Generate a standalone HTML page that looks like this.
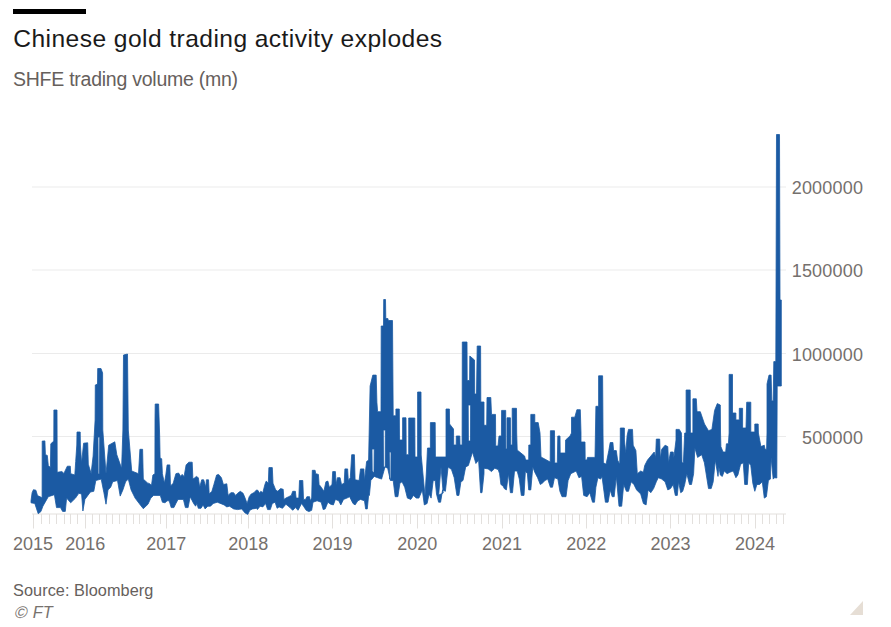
<!DOCTYPE html>
<html><head><meta charset="utf-8"><style>
html,body{margin:0;padding:0;background:#fff;}
svg{display:block;}
text{font-family:"Liberation Sans",sans-serif;}
</style></head><body>
<svg width="891" height="627" viewBox="0 0 891 627">
<rect x="0" y="0" width="891" height="627" fill="#ffffff"/>
<rect x="13" y="9" width="73" height="5" fill="#000000"/>
<text x="13.3" y="47.2" font-size="24.6" fill="#1a1a1a" letter-spacing="0.43">Chinese gold trading activity explodes</text>
<text x="13" y="85.8" font-size="19.5" letter-spacing="-0.25" fill="#66605c">SHFE trading volume (mn)</text>
<g stroke="#ebebeb" stroke-width="1">
<line x1="32" y1="187" x2="786" y2="187"/><line x1="32" y1="270" x2="786" y2="270"/><line x1="32" y1="353.5" x2="786" y2="353.5"/><line x1="32" y1="436.5" x2="786" y2="436.5"/>
</g>
<g fill="#75706d" font-size="18" text-anchor="end" letter-spacing="0.2">
<text x="863.2" y="194.2">2000000</text><text x="863.2" y="277.2">1500000</text><text x="863.2" y="360.7">1000000</text><text x="863.2" y="443.7">500000</text>
</g>
<g stroke="#e3e0dd" stroke-width="1">
<line x1="32" y1="514" x2="786" y2="514"/>
<line x1="33.5" y1="514" x2="33.5" y2="528.5"/><line x1="85.5" y1="514" x2="85.5" y2="528.5"/><line x1="166.5" y1="514" x2="166.5" y2="528.5"/><line x1="248.5" y1="514" x2="248.5" y2="528.5"/><line x1="332.5" y1="514" x2="332.5" y2="528.5"/><line x1="417.5" y1="514" x2="417.5" y2="528.5"/><line x1="502.5" y1="514" x2="502.5" y2="528.5"/><line x1="586.5" y1="514" x2="586.5" y2="528.5"/><line x1="670.5" y1="514" x2="670.5" y2="528.5"/><line x1="755.5" y1="514" x2="755.5" y2="528.5"/><line x1="41.5" y1="514" x2="41.5" y2="524"/><line x1="49.5" y1="514" x2="49.5" y2="524"/><line x1="56.5" y1="514" x2="56.5" y2="524"/><line x1="64.5" y1="514" x2="64.5" y2="524"/><line x1="70.5" y1="514" x2="70.5" y2="524"/><line x1="77.5" y1="514" x2="77.5" y2="524"/><line x1="92.5" y1="514" x2="92.5" y2="524"/><line x1="99.5" y1="514" x2="99.5" y2="524"/><line x1="106.5" y1="514" x2="106.5" y2="524"/><line x1="112.5" y1="514" x2="112.5" y2="524"/><line x1="119.5" y1="514" x2="119.5" y2="524"/><line x1="126.5" y1="514" x2="126.5" y2="524"/><line x1="133.5" y1="514" x2="133.5" y2="524"/><line x1="139.5" y1="514" x2="139.5" y2="524"/><line x1="146.5" y1="514" x2="146.5" y2="524"/><line x1="153.5" y1="514" x2="153.5" y2="524"/><line x1="160.5" y1="514" x2="160.5" y2="524"/><line x1="173.5" y1="514" x2="173.5" y2="524"/><line x1="180.5" y1="514" x2="180.5" y2="524"/><line x1="187.5" y1="514" x2="187.5" y2="524"/><line x1="194.5" y1="514" x2="194.5" y2="524"/><line x1="200.5" y1="514" x2="200.5" y2="524"/><line x1="207.5" y1="514" x2="207.5" y2="524"/><line x1="214.5" y1="514" x2="214.5" y2="524"/><line x1="221.5" y1="514" x2="221.5" y2="524"/><line x1="228.5" y1="514" x2="228.5" y2="524"/><line x1="235.5" y1="514" x2="235.5" y2="524"/><line x1="241.5" y1="514" x2="241.5" y2="524"/><line x1="255.5" y1="514" x2="255.5" y2="524"/><line x1="262.5" y1="514" x2="262.5" y2="524"/><line x1="269.5" y1="514" x2="269.5" y2="524"/><line x1="276.5" y1="514" x2="276.5" y2="524"/><line x1="283.5" y1="514" x2="283.5" y2="524"/><line x1="290.5" y1="514" x2="290.5" y2="524"/><line x1="297.5" y1="514" x2="297.5" y2="524"/><line x1="304.5" y1="514" x2="304.5" y2="524"/><line x1="311.5" y1="514" x2="311.5" y2="524"/><line x1="318.5" y1="514" x2="318.5" y2="524"/><line x1="325.5" y1="514" x2="325.5" y2="524"/><line x1="340.5" y1="514" x2="340.5" y2="524"/><line x1="347.5" y1="514" x2="347.5" y2="524"/><line x1="354.5" y1="514" x2="354.5" y2="524"/><line x1="361.5" y1="514" x2="361.5" y2="524"/><line x1="368.5" y1="514" x2="368.5" y2="524"/><line x1="375.5" y1="514" x2="375.5" y2="524"/><line x1="382.5" y1="514" x2="382.5" y2="524"/><line x1="389.5" y1="514" x2="389.5" y2="524"/><line x1="396.5" y1="514" x2="396.5" y2="524"/><line x1="403.5" y1="514" x2="403.5" y2="524"/><line x1="410.5" y1="514" x2="410.5" y2="524"/><line x1="424.5" y1="514" x2="424.5" y2="524"/><line x1="431.5" y1="514" x2="431.5" y2="524"/><line x1="438.5" y1="514" x2="438.5" y2="524"/><line x1="446.5" y1="514" x2="446.5" y2="524"/><line x1="453.5" y1="514" x2="453.5" y2="524"/><line x1="460.5" y1="514" x2="460.5" y2="524"/><line x1="467.5" y1="514" x2="467.5" y2="524"/><line x1="474.5" y1="514" x2="474.5" y2="524"/><line x1="481.5" y1="514" x2="481.5" y2="524"/><line x1="488.5" y1="514" x2="488.5" y2="524"/><line x1="495.5" y1="514" x2="495.5" y2="524"/><line x1="509.5" y1="514" x2="509.5" y2="524"/><line x1="516.5" y1="514" x2="516.5" y2="524"/><line x1="523.5" y1="514" x2="523.5" y2="524"/><line x1="530.5" y1="514" x2="530.5" y2="524"/><line x1="537.5" y1="514" x2="537.5" y2="524"/><line x1="544.5" y1="514" x2="544.5" y2="524"/><line x1="551.5" y1="514" x2="551.5" y2="524"/><line x1="558.5" y1="514" x2="558.5" y2="524"/><line x1="565.5" y1="514" x2="565.5" y2="524"/><line x1="572.5" y1="514" x2="572.5" y2="524"/><line x1="579.5" y1="514" x2="579.5" y2="524"/><line x1="593.5" y1="514" x2="593.5" y2="524"/><line x1="600.5" y1="514" x2="600.5" y2="524"/><line x1="607.5" y1="514" x2="607.5" y2="524"/><line x1="614.5" y1="514" x2="614.5" y2="524"/><line x1="621.5" y1="514" x2="621.5" y2="524"/><line x1="628.5" y1="514" x2="628.5" y2="524"/><line x1="635.5" y1="514" x2="635.5" y2="524"/><line x1="642.5" y1="514" x2="642.5" y2="524"/><line x1="649.5" y1="514" x2="649.5" y2="524"/><line x1="656.5" y1="514" x2="656.5" y2="524"/><line x1="663.5" y1="514" x2="663.5" y2="524"/><line x1="678.5" y1="514" x2="678.5" y2="524"/><line x1="685.5" y1="514" x2="685.5" y2="524"/><line x1="692.5" y1="514" x2="692.5" y2="524"/><line x1="699.5" y1="514" x2="699.5" y2="524"/><line x1="706.5" y1="514" x2="706.5" y2="524"/><line x1="713.5" y1="514" x2="713.5" y2="524"/><line x1="720.5" y1="514" x2="720.5" y2="524"/><line x1="727.5" y1="514" x2="727.5" y2="524"/><line x1="734.5" y1="514" x2="734.5" y2="524"/><line x1="741.5" y1="514" x2="741.5" y2="524"/><line x1="748.5" y1="514" x2="748.5" y2="524"/><line x1="762.5" y1="514" x2="762.5" y2="524"/><line x1="769.5" y1="514" x2="769.5" y2="524"/><line x1="776.5" y1="514" x2="776.5" y2="524"/><line x1="783.5" y1="514" x2="783.5" y2="524"/>
</g>
<g fill="#75706d" font-size="18" text-anchor="middle">
<text x="33.1" y="550.2">2015</text><text x="85.3" y="550.2">2016</text><text x="166.3" y="550.2">2017</text><text x="248.3" y="550.2">2018</text><text x="332.5" y="550.2">2019</text><text x="417.3" y="550.2">2020</text><text x="502.1" y="550.2">2021</text><text x="586.3" y="550.2">2022</text><text x="670.5" y="550.2">2023</text><text x="755.0" y="550.2">2024</text>
</g>

<path d="M31.0,500.8 L32.1,492.7 L33.4,489.7 L35.9,490.2 L37.5,495.6 L41.6,497.5 L42.1,497.5 L42.2,441.1 L44.9,440.9 L45.4,454.7 L47.3,455.4 L48.3,465.5 L50.4,467.6 L50.8,443.8 L53.8,441.1 L53.8,440.0 L53.9,410.0 L57.0,410.0 L57.1,440.0 L57.2,472.3 L61.9,471.6 L63.9,473.4 L67.3,466.2 L70.3,466.2 L70.7,473.7 L74.8,475.0 L75.7,461.5 L76.8,445.0 L77.0,432.0 L80.2,432.0 L80.4,445.0 L81.6,463.1 L83.6,443.2 L87.7,442.8 L88.3,464.2 L91.1,473.4 L93.1,456.1 L95.1,420.0 L95.3,385.0 L97.5,384.0 L97.7,368.5 L101.0,368.5 L102.6,373.0 L102.8,430.0 L106.0,473.7 L108.7,445.2 L114.8,441.8 L116.8,454.7 L121.6,468.3 L122.9,430.0 L123.5,355.0 L127.5,354.0 L128.3,430.0 L131.7,471.0 L138.5,473.7 L139.9,449.3 L142.6,449.3 L143.3,479.1 L148.0,483.4 L148.8,483.2 L151.5,485.2 L152.9,475.0 L154.9,473.7 L155.0,420.0 L155.2,404.0 L158.6,404.0 L159.7,437.1 L160.1,458.1 L161.7,458.8 L162.4,473.7 L164.4,483.2 L165.8,475.0 L167.1,464.9 L169.8,464.9 L170.5,485.9 L173.2,483.2 L175.9,473.7 L178.6,473.0 L180.7,476.4 L182.0,474.4 L184.1,476.4 L186.1,464.9 L188.8,462.2 L192.2,462.2 L192.9,479.1 L194.9,477.7 L196.3,476.4 L198.3,477.7 L199.7,487.2 L201.7,479.8 L203.7,479.8 L205.8,487.2 L206.4,479.8 L208.5,479.8 L209.2,494.0 L211.9,491.3 L213.9,484.5 L216.6,475.0 L218.6,474.4 L221.4,477.7 L223.4,484.5 L226.8,483.8 L228.1,495.4 L230.8,492.7 L233.6,492.7 L235.6,495.4 L237.6,493.3 L240.3,491.3 L243.1,493.3 L245.1,498.1 L247.1,503.5 L249.2,496.7 L251.2,494.0 L253.9,492.7 L256.6,489.9 L258.1,490.6 L259.5,493.3 L260.8,491.3 L262.8,492.7 L264.9,484.5 L266.2,481.1 L268.3,483.2 L268.9,467.6 L272.3,467.6 L273.0,483.2 L275.7,489.9 L277.8,491.3 L280.5,488.6 L283.2,489.3 L283.9,499.4 L285.9,498.1 L288.6,496.7 L291.3,495.4 L292.7,491.3 L295.4,491.3 L296.1,498.1 L298.8,498.1 L299.5,480.5 L302.8,480.5 L303.5,499.4 L305.6,499.4 L306.9,496.7 L309.6,496.7 L310.3,500.8 L311.7,498.1 L312.3,470.3 L315.1,470.3 L315.7,473.7 L318.4,474.4 L319.1,484.5 L321.2,487.2 L323.9,491.3 L325.9,481.8 L327.9,481.1 L329.3,487.2 L332.0,484.5 L332.7,471.6 L335.4,471.6 L336.1,484.5 L337.4,477.7 L340.1,477.7 L341.5,484.5 L344.2,483.2 L344.9,468.9 L347.6,468.9 L348.3,480.5 L350.3,477.7 L351.7,454.7 L354.4,454.7 L355.1,479.8 L359.1,480.5 L360.5,468.9 L363.9,468.9 L364.5,480.5 L366.6,461.5 L368.6,460.1 L370.1,386.0 L372.8,375.1 L376.2,375.1 L376.9,402.2 L377.6,411.7 L381.0,411.7 L381.2,326.0 L383.5,326.0 L383.7,299.5 L385.5,299.5 L385.8,318.6 L388.0,318.6 L388.2,320.5 L392.5,320.5 L393.2,415.8 L395.9,415.8 L395.9,409.0 L399.3,409.0 L399.5,440.0 L402.6,440.0 L402.6,417.8 L406.0,417.8 L406.2,454.7 L408.7,454.7 L408.7,418.0 L414.8,418.0 L415.0,457.0 L417.6,457.0 L417.6,392.0 L421.0,392.0 L421.2,455.0 L423.5,480.0 L425.0,496.0 L426.5,470.0 L427.5,448.0 L430.4,448.0 L430.4,422.6 L435.2,422.6 L435.4,457.0 L446.0,457.0 L446.0,409.0 L449.4,409.0 L449.6,424.0 L453.5,429.0 L453.7,445.0 L456.2,445.0 L456.3,436.0 L459.8,436.0 L460.0,445.0 L462.1,445.0 L462.3,342.0 L467.0,342.0 L467.2,380.5 L469.6,380.5 L469.8,356.0 L474.5,360.0 L474.7,394.0 L476.5,394.0 L477.2,346.0 L480.6,346.0 L480.8,402.0 L484.0,402.0 L484.0,425.3 L486.7,425.3 L487.0,397.5 L490.8,397.5 L491.5,414.4 L495.5,414.4 L495.7,446.0 L498.0,446.0 L499.0,436.0 L501.4,436.0 L501.6,410.4 L505.7,410.4 L505.9,449.0 L507.0,449.0 L507.0,417.8 L510.4,417.8 L510.6,445.0 L512.2,445.0 L512.2,408.3 L516.5,408.3 L516.7,433.0 L517.2,450.0 L524.6,456.0 L525.6,460.0 L528.7,460.0 L528.8,445.0 L530.8,445.0 L530.8,414.4 L534.8,414.4 L534.8,422.6 L538.2,422.6 L540.0,433.0 L541.0,457.0 L550.2,462.0 L550.4,430.7 L554.5,430.7 L554.7,463.0 L557.3,463.0 L557.8,436.0 L560.0,436.0 L560.2,453.0 L565.4,453.0 L565.6,440.0 L570.0,436.0 L571.5,433.0 L571.5,417.2 L574.8,417.2 L576.9,409.7 L580.3,409.7 L581.0,433.0 L581.0,442.0 L585.0,442.0 L585.2,460.0 L587.0,460.0 L587.5,457.4 L595.0,457.4 L595.9,406.3 L598.6,406.3 L598.6,375.8 L602.6,375.8 L602.8,400.0 L603.0,433.0 L603.4,462.8 L606.1,464.2 L608.8,450.6 L610.2,442.5 L612.9,442.5 L613.6,450.6 L616.3,450.6 L617.6,460.1 L619.7,464.2 L620.3,440.0 L620.3,428.0 L624.4,428.0 L624.4,440.0 L625.8,453.3 L627.1,435.7 L628.5,429.4 L632.5,429.4 L633.2,445.2 L635.9,450.6 L637.3,473.7 L640.7,471.0 L643.4,472.3 L644.7,465.5 L647.5,460.1 L650.8,456.1 L654.2,452.0 L655.6,457.4 L656.3,439.1 L659.7,439.1 L660.3,458.8 L661.7,449.3 L665.1,445.2 L667.8,446.6 L668.5,462.8 L670.5,452.0 L673.2,452.0 L673.9,457.4 L676.0,440.0 L676.0,429.4 L679.3,429.4 L681.4,433.0 L682.0,462.8 L683.4,462.8 L684.7,433.0 L686.1,433.0 L686.1,390.0 L690.2,390.0 L690.4,433.0 L692.9,433.0 L692.9,398.8 L696.3,398.8 L697.0,411.7 L700.3,411.7 L704.5,424.0 L708.5,430.7 L711.9,429.4 L714.6,410.4 L717.3,403.6 L720.3,405.0 L720.5,432.0 L720.9,446.6 L723.0,452.0 L725.7,452.0 L726.4,443.8 L728.4,443.8 L729.1,433.0 L729.1,433.0 L729.1,374.4 L732.5,374.4 L732.5,413.0 L735.9,413.0 L735.9,419.9 L739.3,419.9 L739.3,408.3 L742.6,408.3 L742.6,428.0 L746.0,428.0 L746.7,402.2 L750.8,402.2 L750.8,432.0 L754.8,432.0 L754.8,424.0 L758.2,424.0 L758.4,433.0 L760.9,446.6 L764.3,445.2 L765.0,449.3 L766.6,449.3 L767.0,433.0 L767.0,384.0 L769.0,375.1 L771.1,375.1 L771.8,400.9 L773.2,400.9 L773.8,361.6 L775.8,361.6 L776.0,300.0 L776.5,134.5 L779.5,134.5 L780.0,300.0 L781.3,300.0 L781.3,386.0 L781.3,386.0 L777.2,386.0 L776.8,478.0 L774.5,477.7 L773.2,479.1 L771.1,457.4 L770.4,479.1 L768.4,480.5 L766.4,496.7 L764.3,498.1 L762.3,481.8 L759.6,484.5 L756.9,484.5 L754.8,491.3 L752.8,483.2 L750.8,465.5 L748.7,462.8 L747.4,484.5 L744.7,484.5 L743.3,462.8 L740.6,464.2 L737.9,475.0 L735.9,477.7 L733.2,471.0 L729.8,472.3 L727.1,473.7 L724.3,471.0 L722.3,476.4 L720.3,475.0 L718.9,466.9 L718.0,476.4 L715.3,460.1 L713.2,481.8 L711.2,488.6 L708.5,488.6 L704.4,462.8 L701.7,454.7 L697.6,457.4 L694.9,447.9 L693.6,473.7 L691.5,484.5 L689.5,484.5 L686.8,473.7 L684.7,484.5 L682.7,491.3 L680.7,492.7 L678.6,481.8 L677.3,495.4 L675.3,495.4 L673.2,484.5 L670.5,488.6 L667.8,489.9 L665.1,481.8 L661.7,479.1 L658.3,477.7 L656.3,481.8 L653.6,488.6 L650.8,492.7 L648.1,489.9 L646.1,504.9 L643.4,503.5 L640.7,494.0 L636.6,489.9 L633.9,484.5 L631.2,481.8 L628.5,491.3 L626.4,491.3 L623.7,484.5 L621.7,506.2 L619.0,506.2 L616.3,476.4 L614.2,496.7 L612.2,496.7 L610.2,489.9 L608.1,502.2 L605.4,502.2 L602.0,476.4 L600.6,479.1 L597.9,477.7 L595.9,487.2 L594.5,502.2 L592.5,502.2 L589.8,492.7 L587.1,496.7 L583.7,495.4 L581.6,476.4 L578.9,477.7 L576.2,471.0 L570.8,473.7 L568.1,480.5 L566.0,496.7 L562.0,496.7 L559.9,491.3 L557.9,479.1 L554.5,477.7 L552.5,487.2 L550.4,487.2 L547.7,479.1 L545.0,480.5 L542.3,483.2 L540.3,484.5 L537.6,477.7 L534.8,472.3 L532.8,466.9 L530.8,489.9 L528.7,489.9 L527.4,473.7 L525.4,471.0 L524.0,495.4 L521.3,495.4 L519.3,479.1 L517.2,471.0 L514.5,471.0 L512.5,492.7 L510.4,492.7 L508.4,473.7 L506.4,489.9 L504.3,488.6 L503.0,485.9 L500.9,484.5 L499.6,473.7 L498.2,469.6 L494.8,468.3 L491.5,471.6 L488.1,468.9 L484.0,468.3 L484.0,473.7 L482.0,492.7 L480.6,492.7 L478.6,460.1 L475.9,463.5 L472.5,452.0 L468.4,465.5 L465.7,466.9 L463.0,480.5 L460.9,481.8 L458.9,495.4 L456.9,495.4 L454.2,477.7 L451.5,469.6 L448.1,466.9 L445.4,491.3 L442.6,489.9 L440.6,502.2 L438.6,502.2 L436.5,494.0 L435.2,480.5 L433.2,480.5 L431.1,498.1 L429.1,494.0 L427.1,503.5 L424.3,504.9 L422.3,489.9 L418.9,498.1 L416.2,498.1 L413.5,495.4 L410.8,499.4 L407.4,498.1 L404.7,487.2 L402.0,481.8 L399.9,483.2 L397.9,496.7 L395.2,496.7 L393.2,480.5 L390.4,480.5 L387.7,468.3 L385.0,466.9 L381.6,479.1 L377.6,477.7 L374.2,476.4 L370.8,480.5 L369.4,495.4 L368.6,495.4 L367.3,508.9 L365.6,508.9 L364.5,500.8 L360.5,499.4 L357.8,500.8 L355.1,504.9 L353.0,503.5 L349.6,496.7 L346.9,498.1 L343.5,499.4 L340.8,504.9 L338.8,500.8 L335.4,499.4 L333.4,504.9 L330.6,504.2 L327.9,502.2 L325.2,508.9 L323.2,509.6 L321.2,502.2 L317.1,500.8 L313.0,502.2 L311.7,510.3 L308.9,511.6 L306.2,510.3 L303.5,506.2 L301.5,503.5 L298.1,510.3 L295.4,507.6 L292.7,510.3 L290.0,507.6 L285.9,504.2 L282.5,508.3 L279.1,506.9 L277.1,508.3 L275.1,502.2 L272.3,503.5 L270.3,509.6 L267.6,509.6 L265.6,503.5 L262.8,506.9 L260.1,506.2 L257.4,509.6 L256.6,508.3 L252.5,508.9 L249.8,510.3 L247.8,514.4 L245.1,513.0 L241.7,508.9 L237.6,509.6 L233.6,508.9 L229.5,506.2 L226.8,506.9 L224.1,504.9 L217.3,502.2 L213.2,503.5 L210.5,506.2 L207.8,506.2 L205.1,508.9 L203.1,504.9 L201.0,508.3 L198.3,508.3 L196.9,503.5 L195.6,506.2 L193.6,503.5 L190.2,496.7 L188.1,507.6 L185.4,507.6 L183.4,499.4 L178.0,499.4 L175.9,503.5 L173.9,507.6 L171.2,507.6 L169.2,500.8 L167.1,500.8 L165.1,502.8 L162.4,502.2 L160.3,495.4 L153.6,495.4 L150.8,498.1 L148.0,504.2 L143.3,508.7 L139.2,503.5 L135.1,498.1 L131.1,489.9 L128.3,479.1 L125.6,481.8 L122.9,489.9 L120.2,496.1 L117.5,480.5 L112.7,481.8 L110.7,487.2 L108.0,489.9 L106.0,504.2 L103.9,492.7 L101.2,479.1 L95.8,480.5 L93.8,491.3 L90.4,492.0 L84.9,499.4 L82.9,511.0 L81.6,494.0 L78.8,493.3 L75.5,498.1 L70.7,502.8 L66.6,498.1 L65.3,511.4 L62.6,511.4 L60.5,507.6 L56.5,507.6 L54.4,494.7 L48.3,496.7 L42.9,506.2 L40.9,511.6 L38.2,513.7 L34.8,503.5 L31.0,502.8Z M372.0,449.0 L374.2,449.0 L374.0,473.0 L372.2,471.0Z M383.3,430.0 L385.3,430.0 L385.2,467.0 L383.5,467.0Z M389.3,452.0 L391.0,452.0 L390.8,479.0 L389.6,479.0Z M438.7,495.0 L441.0,467.0 L443.2,493.0Z M468.2,405.0 L470.6,405.0 L470.5,441.0 L468.4,441.0Z M98.0,437.0 L99.7,437.0 L99.5,474.0 L98.2,474.0Z" fill="#1b5aa3" fill-rule="evenodd" stroke="#1b5aa3" stroke-width="0.8" stroke-linejoin="round"/>
<text x="13" y="596.1" font-size="16.3" letter-spacing="0.06" fill="#66605c">Source: Bloomberg</text>
<text transform="translate(13.8,617.5) skewX(-14)" x="0" y="0" font-size="17" fill="#77726e">©</text><text x="32.8" y="617.5" font-size="16.3" font-style="italic" fill="#77726e">FT</text>
<polygon points="863,601 863,615 850,615" fill="#e6ded5"/>
</svg>
</body></html>
